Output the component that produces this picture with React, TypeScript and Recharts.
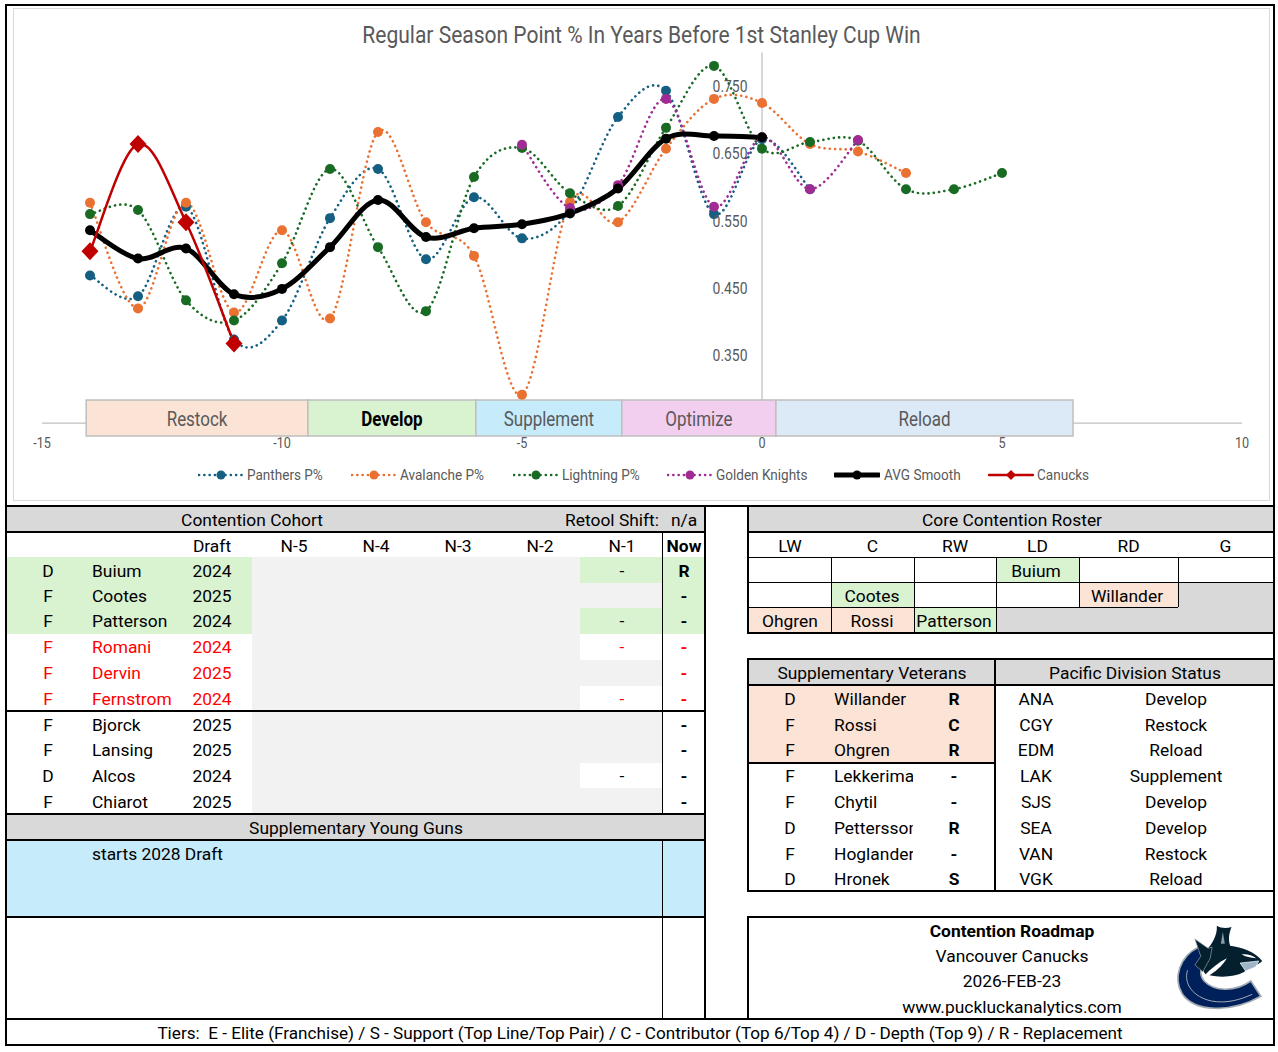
import { LineChart, Line, XAxis, YAxis, ReferenceLine, ReferenceArea, Legend } from "recharts";

const xValues = [-14, -13, -12, -11, -10, -9, -8, -7, -6, -5, -4, -3, -2, -1, 0, 1, 2, 3, 4, 5];
const panthers = [0.469, 0.438, 0.571, 0.374, 0.402, 0.554, 0.627, 0.493, 0.585, 0.524, 0.565, 0.704, 0.743, 0.56, 0.671, 0.597];
const avalanche = [0.577, 0.42, 0.577, 0.414, 0.536, 0.405, 0.682, 0.548, 0.498, 0.292, 0.578, 0.548, 0.657, 0.731, 0.725, 0.664, 0.653, 0.621];
const lightning = [0.56, 0.566, 0.432, 0.402, 0.487, 0.627, 0.511, 0.416, 0.615, 0.658, 0.591, 0.572, 0.688, 0.78, 0.657, 0.667, 0.669, 0.597, 0.597, 0.621];
// Golden Knights only start at year -5
const goldenStart = 9;
const golden = [0.663, 0.569, 0.603, 0.731, 0.571, 0.674, 0.597, 0.67];
const avgSmooth = [0.536, 0.494, 0.509, 0.441, 0.449, 0.511, 0.581, 0.526, 0.539, 0.545, 0.561, 0.598, 0.672, 0.676, 0.674];
const canucks = [0.505, 0.664, 0.548, 0.368];

const xTicks = [-15, -10, -5, 0, 5, 10];
const yTicks = [0.35, 0.45, 0.55, 0.65, 0.75];

const stageNames = ["Restock", "Develop", "Supplement", "Optimize", "Reload"];
const stageEdges = [-14.08, -9.46, -5.96, -2.92, 0.29, 6.48];
const stageFills = ["#FBE3D6", "#D9F2D0", "#C6EBFB", "#F2CEEF", "#DCEAF7"];
const stageLow = 0.2307;
const stageHigh = 0.284;

const chartData = xValues.map((x, i) => ({
  x,
  panthers: panthers[i] ?? null,
  avalanche: avalanche[i] ?? null,
  lightning: lightning[i] ?? null,
  golden: golden[i - goldenStart] ?? null,
  avg: avgSmooth[i] ?? null,
  canucks: canucks[i] ?? null,
}));

const cohortPos = ["D", "F", "F", "F", "F", "F", "F", "F", "D", "F"];
const cohortNames = ["Buium", "Cootes", "Patterson", "Romani", "Dervin", "Fernstrom", "Bjorck", "Lansing", "Alcos", "Chiarot"];
const cohortDraft = ["2024", "2025", "2024", "2024", "2025", "2024", "2025", "2025", "2024", "2025"];
const cohortN1 = ["-", "", "-", "-", "", "-", "", "", "-", ""];
const cohortNow = ["R", "-", "-", "-", "-", "-", "-", "-", "-", "-"];
const cohortEdges = [557, 582.5, 608, 634, 659.5, 686, 712, 737, 763, 788, 813];
const cohortRows = [571, 596, 621, 647, 673, 699, 725, 750, 776, 802];
const nCols = ["N-5", "N-4", "N-3", "N-2", "N-1"];

const rosterCols = ["LW", "C", "RW", "LD", "RD", "G"];
const rosterEdges = [749, 831, 914, 996, 1079, 1178, 1273];

const vetPos = ["D", "F", "F", "F", "F", "D", "F", "D"];
const vetNames = ["Willander", "Rossi", "Ohgren", "Lekkerimaki", "Chytil", "Pettersson", "Hoglander", "Hronek"];
const vetTier = ["R", "C", "R", "-", "-", "R", "-", "S"];
const teams = ["ANA", "CGY", "EDM", "LAK", "SJS", "SEA", "VAN", "VGK"];
const teamStatus = ["Develop", "Restock", "Reload", "Supplement", "Develop", "Develop", "Restock", "Reload"];
const vetRows = [699, 725, 750, 776, 802, 828, 854, 879];

const FONT = '"Roboto", sans-serif';
const GREEN = "#D9F2D0";
const PEACH = "#FBE3D6";
const GREY = "#D9D9D9";
const LIGHT = "#F2F2F2";
const DOTS = "0.1 5.2";

// Catmull-Rom through every point, same feel as Excel's "smoothed line"
function excelSmooth(context: any) {
  let pts: [number, number][] = [];
  return {
    areaStart() {},
    areaEnd() {},
    lineStart() {
      pts = [];
    },
    point(x: number, y: number) {
      pts.push([+x, +y]);
    },
    lineEnd() {
      if (!pts.length) return;
      context.moveTo(pts[0][0], pts[0][1]);
      for (let i = 0; i < pts.length - 1; i++) {
        const p0 = pts[Math.max(i - 1, 0)];
        const p1 = pts[i];
        const p2 = pts[i + 1];
        const p3 = pts[Math.min(i + 2, pts.length - 1)];
        context.bezierCurveTo(
          p1[0] + (p2[0] - p0[0]) / 6,
          p1[1] + (p2[1] - p0[1]) / 6,
          p2[0] - (p3[0] - p1[0]) / 6,
          p2[1] - (p3[1] - p1[1]) / 6,
          p2[0],
          p2[1]
        );
      }
    },
  };
}

function Diamond({ cx, cy, value }: any) {
  if (value == null || cy == null) return null;
  return <path d={`M${cx} ${cy - 9}L${cx + 8.5} ${cy}L${cx} ${cy + 9}L${cx - 8.5} ${cy}Z`} fill="#C00000" />;
}

// Roboto squeezed sideways, the reference font is a narrow one
function NarrowText({ x, y, anchor = "middle", size, fill = "#595959", bold, children }: any) {
  return (
    <text
      textAnchor={anchor}
      dominantBaseline="central"
      fontSize={size}
      fontWeight={bold ? 700 : 400}
      fill={fill}
      transform={`translate(${x} ${y}) scale(0.87 1)`}
    >
      {children}
    </text>
  );
}

function XTick({ x, y, payload }: any) {
  return (
    <NarrowText x={x} y={y + 12} size={14.5}>
      {payload.value}
    </NarrowText>
  );
}

// the value axis crosses at x = 0, so its labels sit just left of that line
function YTick({ y, payload }: any) {
  return (
    <NarrowText x={734.5} y={y + 0.5} anchor="end" size={16}>
      {payload.value.toFixed(3)}
    </NarrowText>
  );
}

function StageLabel({ viewBox, name }: any) {
  const dark = name === "Develop";
  return (
    <NarrowText
      x={viewBox.x + viewBox.width / 2}
      y={viewBox.y + viewBox.height / 2 + 1}
      size={19.5}
      fill={dark ? "#000" : "#595959"}
      bold={dark}
    >
      {name}
    </NarrowText>
  );
}

const legendLeft = [185, 338, 500, 654, 821, 975];
const legendTextGap = [49, 49, 49, 49, 50, 49];

function LegendBox({ payload }: any) {
  return (
    <div style={{ position: "relative", height: 20 }}>
      {(payload ?? []).map((p: any, i: number) => {
        const solid = !p.payload?.strokeDasharray;
        const thick = p.dataKey === "avg";
        return (
          <div key={p.value} style={{ position: "absolute", left: legendLeft[i], top: 0, height: 20 }}>
            <svg width={46} height={20} style={{ position: "absolute", left: 0, top: 0 }}>
              <line
                x1={1}
                x2={45}
                y1={10}
                y2={10}
                stroke={p.color}
                strokeWidth={thick ? 5 : solid ? 2.5 : 2.6}
                strokeDasharray={solid ? undefined : DOTS}
                strokeLinecap="round"
              />
              {p.dataKey === "canucks" ? (
                <path d="M23 5L28 10L23 15L18 10Z" fill={p.color} />
              ) : (
                <circle cx={23} cy={10} r={4.5} fill={p.color} />
              )}
            </svg>
            <span
              style={{
                position: "absolute",
                left: legendTextGap[i],
                top: 0,
                lineHeight: "20px",
                fontSize: 15.4,
                color: "#595959",
                whiteSpace: "nowrap",
                transform: "scaleX(0.88)",
                transformOrigin: "left center",
              }}
            >
              {p.value}
            </span>
          </div>
        );
      })}
    </div>
  );
}

function Box({ x, y, w, h, bg }: { x: number; y: number; w: number; h: number; bg: string }) {
  return <div style={{ position: "absolute", left: x, top: y, width: w, height: h, background: bg }} />;
}

function Txt({ cx, lx, rx, y, color = "#000", bold, clip, size = 17.4, children }: any) {
  // cx centres the text, lx sets its left edge, rx its right edge; y is the middle of the line
  const style: any = {
    position: "absolute",
    top: y - 13,
    height: 26,
    lineHeight: "26px",
    fontSize: size,
    color,
    fontWeight: bold ? 700 : 400,
    whiteSpace: "pre",
  };
  if (cx != null) {
    style.left = cx - 600;
    style.width = 1200;
    style.textAlign = "center";
  } else if (rx != null) {
    style.left = rx - 300;
    style.width = 300;
    style.textAlign = "right";
  } else {
    style.left = lx;
    if (clip) {
      style.width = clip - lx;
      style.overflow = "hidden";
    }
  }
  return <div style={style}>{children}</div>;
}

function Logo() {
  return (
    <svg viewBox="0 0 345 330" width={118} height={110} style={{ position: "absolute", left: 1160, top: 915 }}>
      <path
        d="M112 96C54 124 34 190 62 236C98 290 206 296 298 244L268 198C222 230 160 232 128 198C112 178 116 156 134 138Z"
        fill="#00205B"
        stroke="#A3ABB2"
        strokeWidth={5}
      />
      <path d="M78 166C66 206 94 246 150 258C192 266 232 256 272 238" fill="none" stroke="#A3ABB2" strokeWidth={3} />
      <path
        d="M166 32C178 40 196 40 210 36C202 56 200 74 206 92C240 96 282 110 302 138C288 152 262 158 246 172C216 188 168 188 132 178C118 160 116 130 136 104C150 88 168 62 166 32Z"
        fill="#04202F"
      />
      <path d="M128 182C150 160 172 142 196 130C184 152 160 172 136 186Z" fill="#fff" />
      <path d="M236 144L292 138L282 156L252 168Z" fill="#9FB4C7" stroke="#fff" strokeWidth={2} />
      <path d="M240 118C256 116 272 120 284 130C268 128 252 126 240 118Z" fill="#fff" />
      <path d="M184 50L190 86L178 86Z" fill="#8D99A3" />
      <path d="M100 72L140 100L152 96L146 130L124 170L100 150L118 124Z" fill="#04202F" stroke="#9AA5AD" strokeWidth={2} />
    </svg>
  );
}

export default function App() {
  return (
    <div
      style={{
        position: "absolute",
        left: 0,
        top: 0,
        width: 1278,
        height: 1052,
        background: "#fff",
        overflow: "hidden",
        fontFamily: FONT,
      }}
    >
      {/* chart panel */}
      <div
        style={{
          position: "absolute",
          left: 13,
          top: 8,
          width: 1257,
          height: 493,
          boxSizing: "border-box",
          border: "1px solid #D9D9D9",
        }}
      >
        <div
          style={{
            position: "absolute",
            left: 0,
            top: 11,
            width: 1255,
            textAlign: "center",
            fontSize: 24,
            lineHeight: "30px",
            color: "#595959",
            transform: "scaleX(0.875)",
          }}
        >
          Regular Season Point % In Years Before 1st Stanley Cup Win
        </div>
        <div style={{ position: "absolute", left: -1, top: -1 }}>
          <LineChart
            width={1257}
            height={493}
            data={chartData}
            margin={{ top: 44.4, right: 28, bottom: 48, left: 0 }}
            style={{ fontFamily: FONT }}
          >
            <XAxis
              type="number"
              dataKey="x"
              domain={[-15, 10]}
              ticks={xTicks}
              height={30}
              axisLine={false}
              tickLine={false}
              interval={0}
              tick={<XTick />}
            />
            <YAxis
              type="number"
              domain={[0.25, 0.8]}
              ticks={yTicks}
              width={29}
              axisLine={false}
              tickLine={false}
              interval={0}
              tick={<YTick />}
            />
            {/* axis lines stop at the stage bar, which hides them in the reference */}
            <ReferenceLine
              segment={[{ x: 0, y: stageHigh }, { x: 0, y: 0.8 }]}
              stroke="#BFBFBF"
              strokeWidth={1.25}
            />
            <ReferenceLine
              segment={[{ x: -15, y: 0.25 }, { x: stageEdges[0], y: 0.25 }]}
              stroke="#BFBFBF"
              strokeWidth={1.25}
            />
            <ReferenceLine
              segment={[{ x: stageEdges[5], y: 0.25 }, { x: 10, y: 0.25 }]}
              stroke="#BFBFBF"
              strokeWidth={1.25}
            />
            {stageNames.map((s, i) => (
              <ReferenceArea
                key={s}
                x1={stageEdges[i]}
                x2={stageEdges[i + 1]}
                y1={stageLow}
                y2={stageHigh}
                ifOverflow="visible"
                fill={stageFills[i]}
                fillOpacity={1}
                stroke="#BFBFBF"
                strokeWidth={1.5}
                label={<StageLabel name={s} />}
              />
            ))}
            <Line
              dataKey="panthers"
              name="Panthers P%"
              type={excelSmooth as any}
              stroke="#156082"
              strokeWidth={2.6}
              strokeDasharray={DOTS}
              strokeLinecap="round"
              dot={{ r: 5, fill: "#156082", stroke: "none", strokeDasharray: "" }}
              isAnimationActive={false}
            />
            <Line
              dataKey="avalanche"
              name="Avalanche P%"
              type={excelSmooth as any}
              stroke="#E97132"
              strokeWidth={2.6}
              strokeDasharray={DOTS}
              strokeLinecap="round"
              dot={{ r: 5, fill: "#E97132", stroke: "none", strokeDasharray: "" }}
              isAnimationActive={false}
            />
            <Line
              dataKey="lightning"
              name="Lightning P%"
              type={excelSmooth as any}
              stroke="#196B24"
              strokeWidth={2.6}
              strokeDasharray={DOTS}
              strokeLinecap="round"
              dot={{ r: 5, fill: "#196B24", stroke: "none", strokeDasharray: "" }}
              isAnimationActive={false}
            />
            <Line
              dataKey="golden"
              name="Golden Knights"
              type={excelSmooth as any}
              stroke="#A02B93"
              strokeWidth={2.6}
              strokeDasharray={DOTS}
              strokeLinecap="round"
              dot={{ r: 5, fill: "#A02B93", stroke: "none", strokeDasharray: "" }}
              isAnimationActive={false}
            />
            <Line
              dataKey="avg"
              name="AVG Smooth"
              type={excelSmooth as any}
              stroke="#000"
              strokeWidth={5}
              dot={{ r: 5, fill: "#000", stroke: "none" }}
              isAnimationActive={false}
            />
            <Line
              dataKey="canucks"
              name="Canucks"
              type={excelSmooth as any}
              stroke="#C00000"
              strokeWidth={2.5}
              dot={<Diamond />}
              isAnimationActive={false}
            />
            <Legend
              verticalAlign="middle"
              itemSorter={null}
              content={<LegendBox />}
              wrapperStyle={{ left: 0, top: 457, width: 1257, height: 20 }}
            />
          </LineChart>
        </div>
      </div>

      {/* Contention Cohort */}
      <Box x={7} y={507} w={697} h={24} bg={GREY} />
      <Box x={7} y={557} w={245} h={77} bg={GREEN} />
      <Box x={663} y={557} w={41} h={77} bg={GREEN} />
      <Box x={252} y={557} w={410} h={256} bg={LIGHT} />
      {cohortN1.map((m, i) =>
        m ? (
          <Box
            key={i}
            x={580}
            y={cohortEdges[i]}
            w={82}
            h={cohortEdges[i + 1] - cohortEdges[i]}
            bg={i < 3 ? GREEN : "#fff"}
          />
        ) : null
      )}
      <Box x={7} y={815} w={697} h={24} bg={GREY} />
      <Box x={7} y={841} w={697} h={75} bg="#C6EBFB" />

      <Txt cx={252} y={520}>Contention Cohort</Txt>
      <Txt rx={659} y={520}>Retool Shift:</Txt>
      <Txt cx={684} y={520}>n/a</Txt>
      <Txt cx={212} y={546}>Draft</Txt>
      {nCols.map((c, i) => (
        <Txt key={c} cx={294 + i * 82} y={546}>{c}</Txt>
      ))}
      <Txt cx={684} y={546} bold>Now</Txt>
      {cohortNames.map((n, i) => {
        const y = cohortRows[i];
        const color = i >= 3 && i <= 5 ? "#FF0000" : "#000";
        return (
          <div key={n}>
            <Txt cx={48} y={y} color={color}>{cohortPos[i]}</Txt>
            <Txt lx={92} y={y} color={color}>{n}</Txt>
            <Txt cx={212} y={y} color={color}>{cohortDraft[i]}</Txt>
            {cohortN1[i] ? <Txt cx={622} y={y} color={color}>{cohortN1[i]}</Txt> : null}
            <Txt cx={684} y={y} color={color} bold>{cohortNow[i]}</Txt>
          </div>
        );
      })}
      <Txt cx={356} y={828}>Supplementary Young Guns</Txt>
      <Txt lx={92} y={854}>starts 2028 Draft</Txt>

      {/* Core Contention Roster */}
      <Box x={749} y={507} w={524} h={24} bg={GREY} />
      <Box x={996} y={557} w={83} h={25} bg={GREEN} />
      <Box x={831} y={582} w={83} h={25} bg={GREEN} />
      <Box x={1079} y={582} w={99} h={25} bg={PEACH} />
      <Box x={1178} y={582} w={95} h={25} bg={GREY} />
      <Box x={749} y={607} w={82} h={25} bg={PEACH} />
      <Box x={831} y={607} w={83} h={25} bg={PEACH} />
      <Box x={914} y={607} w={82} h={25} bg={GREEN} />
      <Box x={996} y={607} w={277} h={25} bg={GREY} />
      <Box x={749} y={557} w={524} h={1} bg="#000" />
      <Box x={749} y={582} w={524} h={1} bg="#000" />
      <Box x={749} y={607} w={429} h={1} bg="#000" />
      {rosterEdges.slice(1, 3).map((x) => (
        <Box key={x} x={x} y={557} w={1} h={75} bg="#000" />
      ))}
      <Box x={996} y={557} w={1} h={75} bg="#000" />
      <Box x={1079} y={557} w={1} h={50} bg="#000" />
      <Box x={1178} y={557} w={1} h={50} bg="#000" />
      {rosterCols.map((c, i) => (
        <Txt key={c} cx={(rosterEdges[i] + rosterEdges[i + 1]) / 2} y={546}>{c}</Txt>
      ))}
      <Txt cx={1012} y={520}>Core Contention Roster</Txt>
      <Txt cx={1036} y={571}>Buium</Txt>
      <Txt cx={872} y={596}>Cootes</Txt>
      <Txt cx={1127} y={596}>Willander</Txt>
      <Txt cx={790} y={621}>Ohgren</Txt>
      <Txt cx={872} y={621}>Rossi</Txt>
      <Txt cx={954} y={621}>Patterson</Txt>

      {/* Veterans and division */}
      <Box x={749} y={660} w={524} h={24} bg={GREY} />
      <Box x={749} y={686} w={245} h={76} bg={PEACH} />
      <Txt cx={872} y={673}>Supplementary Veterans</Txt>
      <Txt cx={1135} y={673}>Pacific Division Status</Txt>
      {vetNames.map((n, i) => (
        <div key={n}>
          <Txt cx={790} y={vetRows[i]}>{vetPos[i]}</Txt>
          <Txt lx={834} y={vetRows[i]} clip={913}>{n}</Txt>
          <Txt cx={954} y={vetRows[i]} bold>{vetTier[i]}</Txt>
          <Txt cx={1036} y={vetRows[i]}>{teams[i]}</Txt>
          <Txt cx={1176} y={vetRows[i]}>{teamStatus[i]}</Txt>
        </div>
      ))}

      {/* Roadmap box */}
      <Txt cx={1012} y={931} bold>Contention Roadmap</Txt>
      <Txt cx={1012} y={956}>Vancouver Canucks</Txt>
      <Txt cx={1012} y={981}>2026-FEB-23</Txt>
      <Txt cx={1012} y={1007}>www.puckluckanalytics.com</Txt>
      <Logo />
      <Txt cx={640} y={1033} size={17.15}>Tiers:  E - Elite (Franchise) / S - Support (Top Line/Top Pair) / C - Contributor (Top 6/Top 4) / D - Depth (Top 9) / R - Replacement</Txt>

      {/* heavy black rules */}
      <Box x={5} y={4} w={1270} h={2} bg="#000" />
      <Box x={5} y={505} w={1270} h={2} bg="#000" />
      <Box x={5} y={4} w={2} h={1042} bg="#000" />
      <Box x={1273} y={4} w={2} h={1042} bg="#000" />
      <Box x={704} y={505} w={2} h={514} bg="#000" />
      <Box x={5} y={531} w={700} h={2} bg="#000" />
      <Box x={747} y={531} w={527} h={2} bg="#000" />
      <Box x={662} y={533} w={1} h={280} bg="#000" />
      <Box x={662} y={841} w={1} h={178} bg="#000" />
      <Box x={5} y={710} w={700} h={2} bg="#000" />
      <Box x={5} y={813} w={700} h={2} bg="#000" />
      <Box x={5} y={839} w={700} h={2} bg="#000" />
      <Box x={5} y={916} w={700} h={2} bg="#000" />
      <Box x={5} y={1018} w={1270} h={2} bg="#000" />
      <Box x={5} y={1044} w={1270} h={2} bg="#000" />
      <Box x={747} y={505} w={2} h={129} bg="#000" />
      <Box x={747} y={632} w={527} h={2} bg="#000" />
      <Box x={747} y={658} w={527} h={2} bg="#000" />
      <Box x={747} y={658} w={2} h={234} bg="#000" />
      <Box x={994} y={658} w={2} h={234} bg="#000" />
      <Box x={747} y={684} w={527} h={2} bg="#000" />
      <Box x={747} y={762} w={248} h={2} bg="#000" />
      <Box x={747} y={890} w={527} h={2} bg="#000" />
      <Box x={747} y={916} w={527} h={2} bg="#000" />
      <Box x={747} y={916} w={2} h={103} bg="#000" />
    </div>
  );
}
